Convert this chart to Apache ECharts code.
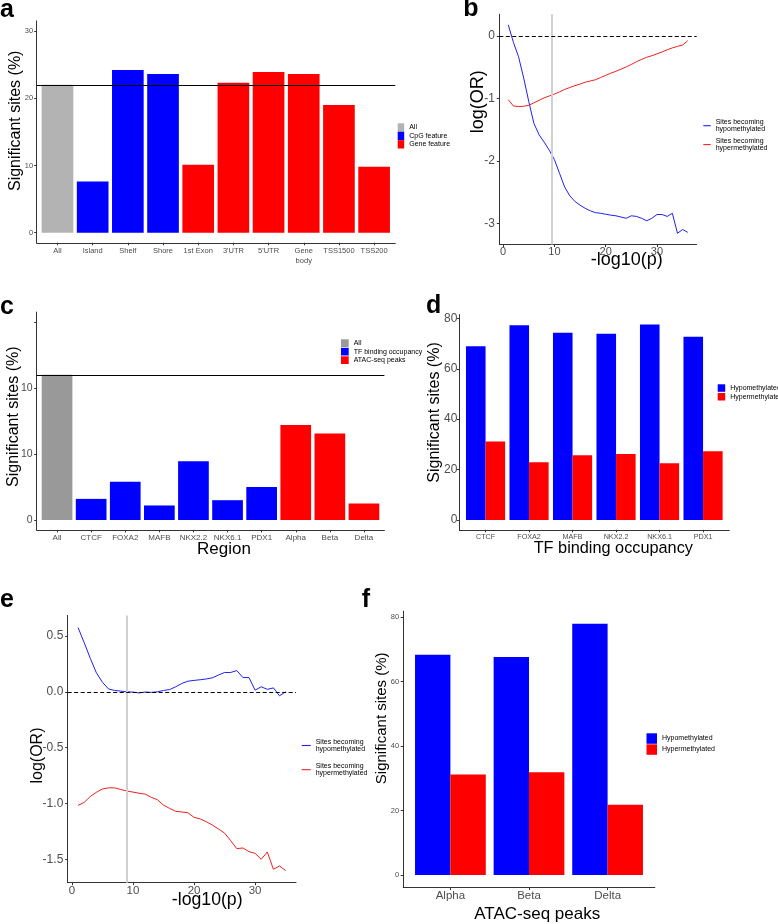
<!DOCTYPE html>
<html><head><meta charset="utf-8">
<script src="https://cdn.jsdelivr.net/npm/echarts@6/dist/echarts.min.js"></script>
<style>html,body{margin:0;padding:0;background:#fff}#c{width:778px;height:924px}</style>
</head><body><div id="c"></div>
<script>
// ---------- DATA ----------
// Panel a
const aCategories = ['All','Island','Shelf','Shore','1st Exon',"3'UTR","5'UTR",'Gene\nbody','TSS1500','TSS200'];
const aGroups = ['All','CpG feature','CpG feature','CpG feature','Gene feature','Gene feature','Gene feature','Gene feature','Gene feature','Gene feature'];
const aValues = [22.0, 7.6, 24.2, 23.6, 10.1, 22.3, 23.9, 23.6, 19.0, 9.8];
const aLegend = ['All','CpG feature','Gene feature'];
const aRefLine = 22.0;
const aYTicks = [0, 10, 20, 30];

// Panel b
const bX = [1,2,3,4,5,6,7,8,9,10,11,12,13,14,15,16,17,18,19,20,21,22,23,24,25,26,27,28,29,30,31,32,33,34,35,36];
const bHypo = [0.18,-0.10,-0.33,-0.67,-1.05,-1.40,-1.58,-1.70,-1.83,-1.98,-2.20,-2.42,-2.56,-2.65,-2.71,-2.76,-2.80,-2.83,-2.84,-2.855,-2.87,-2.88,-2.90,-2.92,-2.88,-2.89,-2.92,-2.96,-2.92,-2.86,-2.86,-2.89,-2.84,-3.16,-3.10,-3.145];
const bHyper = [-1.02,-1.12,-1.13,-1.125,-1.11,-1.07,-1.03,-0.99,-0.96,-0.93,-0.895,-0.855,-0.825,-0.795,-0.77,-0.74,-0.72,-0.70,-0.665,-0.63,-0.595,-0.565,-0.53,-0.495,-0.455,-0.41,-0.375,-0.34,-0.315,-0.285,-0.255,-0.22,-0.19,-0.165,-0.145,-0.075];
const bLegend = ['Sites becoming\nhypomethylated','Sites becoming\nhypermethylated'];
const bThreshold = 9.4;
const bRef = 0;
const bXTicks = [0, 10, 20, 30];
const bYTicks = [-3, -2, -1, 0];

// Panel c
const cCategories = ['All','CTCF','FOXA2','MAFB','NKX2.2','NKX6.1','PDX1','Alpha','Beta','Delta'];
const cGroups = ['All','TF binding occupancy','TF binding occupancy','TF binding occupancy','TF binding occupancy','TF binding occupancy','TF binding occupancy','ATAC-seq peaks','ATAC-seq peaks','ATAC-seq peaks'];
const cValues = [22.0, 3.2, 5.8, 2.2, 8.9, 3.0, 5.0, 14.4, 13.1, 2.5];
const cLegend = ['All','TF binding occupancy','ATAC-seq peaks'];
const cRefLine = 22.0;
const cYTicks = [0, 10, 20, 30];
const cYTickLabels = ['0', '10', '10', ''];

// Panel d
const dCategories = ['CTCF','FOXA2','MAFB','NKX2.2','NKX6.1','PDX1'];
const dHypo = [68.9, 77.3, 74.3, 73.9, 77.6, 72.7];
const dHyper = [31.1, 22.9, 25.7, 26.2, 22.5, 27.3];
const dLegend = ['Hypomethylated','Hypermethylated'];
const dYTicks = [0, 20, 40, 60, 80];

// Panel e
const eX = [1,2,3,4,5,6,7,8,9,10,11,12,13,14,15,16,17,18,19,20,21,22,23,24,25,26,27,28,29,30,31,32,33,34,35];
const eHypo = [0.575,0.44,0.30,0.17,0.085,0.025,0.012,0.006,0.0,-0.003,-0.01,-0.002,-0.005,0.0,0.012,0.02,0.045,0.075,0.095,0.102,0.108,0.115,0.125,0.15,0.173,0.173,0.19,0.128,0.127,0.015,0.045,0.022,0.035,-0.036,0.0];
const eHyper = [-1.017,-0.99,-0.937,-0.90,-0.87,-0.86,-0.86,-0.875,-0.888,-0.898,-0.908,-0.916,-0.945,-0.966,-1.015,-1.044,-1.07,-1.076,-1.083,-1.124,-1.138,-1.163,-1.193,-1.228,-1.265,-1.333,-1.404,-1.398,-1.431,-1.446,-1.50,-1.434,-1.589,-1.559,-1.60];
const eLegend = ['Sites becoming\nhypomethylated','Sites becoming\nhypermethylated'];
const eThreshold = 8.9;
const eRef = 0;
const eXTicks = [0, 10, 20, 30];
const eYTicks = [-1.5, -1, -0.5, 0, 0.5];
const eYTickLabels = ['-1.5', '-1.0', '-0.5', '0.0', '0.5'];

// Panel f
const fCategories = ['Alpha','Beta','Delta'];
const fHypo = [68.4, 67.7, 78.0];
const fHyper = [31.2, 31.9, 21.8];
const fLegend = ['Hypomethylated','Hypermethylated'];
const fYTicks = [0, 20, 40, 60, 80];

// Titles
const panelLetters = ['a','b','c','d','e','f'];
const yTitleSig = 'Significant sites (%)';
const yTitleOR = 'log(OR)';
const xTitleP = '-log10(p)';
const cXTitle = 'Region';
const dXTitle = 'TF binding occupancy';
const fXTitle = 'ATAC-seq peaks';

// ---------- STYLE ----------
const FONT = '"Liberation Sans", Arial, Helvetica, sans-serif';
const LBL = '#4d4d4d';
const AXC = '#333333';
const BLUE = '#0000ff', RED = '#ff0000';
const LBLUE = '#2020f0', LRED = '#f02020';
const aPalette = ['#b3b3b3', BLUE, RED];
const cPalette = ['#999999', BLUE, RED];

const chart = echarts.init(document.getElementById('c'), null, {renderer: 'canvas'});

const names = {};
function reg(prefix, list) { return list.map((t, i) => { const k = prefix + i; names[k] = t; return k; }); }
const aKeys = reg('a', aLegend), bKeys = reg('b', bLegend), cKeys = reg('c', cLegend),
      dKeys = reg('d', dLegend), eKeys = reg('e', eLegend), fKeys = reg('f', fLegend);

const grids = [
  {left: 36.7, top: 20.9, width: 358.6, height: 221.9},   // 0 a frame
  {left: 39.9, top: 20.9, width: 351.8, height: 221.9},   // 1 a data
  {left: 499.3, top: 14.2, width: 197.4, height: 230.3},  // 2 b
  {left: 36.7, top: 312.1, width: 347.7, height: 217.8},  // 3 c frame
  {left: 40.0, top: 312.1, width: 341.0, height: 217.8},  // 4 c data
  {left: 459.4, top: 314.6, width: 269.8, height: 215.2}, // 5 d frame
  {left: 463.8, top: 314.6, width: 261.0, height: 215.2}, // 6 d data
  {left: 67.7, top: 615.4, width: 228.3, height: 267.3},  // 7 e
  {left: 403.2, top: 611.2, width: 251.6, height: 276.4}, // 8 f frame
  {left: 411.1, top: 611.2, width: 235.8, height: 276.4}  // 9 f data
].map(g => Object.assign({containLabel: false, outerBoundsMode: 'none'}, g));

const axLine = {show: true, onZero: false, lineStyle: {color: AXC, width: 1}};
function frameX(gi) {
  return {gridIndex: gi, type: 'value', min: 0, max: 1, axisLine: axLine, axisTick: {show: false}, axisLabel: {show: false}, splitLine: {show: false}};
}
function hiddenY(gi, min, max) {
  return {gridIndex: gi, type: 'value', min, max, show: false, splitLine: {show: false}};
}
function valY(gi, min, max, ticks, fontSize, margin, fmt) {
  return {gridIndex: gi, type: 'value', min, max, axisLine: axLine,
    axisTick: {show: true, length: 2.5, customValues: ticks, lineStyle: {color: AXC}},
    axisLabel: {customValues: ticks, fontSize, color: LBL, margin, fontFamily: FONT, formatter: fmt || (v => String(v))},
    splitLine: {show: false}};
}
function valX(gi, min, max, ticks, fontSize, margin) {
  return {gridIndex: gi, type: 'value', min, max, axisLine: axLine,
    axisTick: {show: true, length: 2.5, customValues: ticks, lineStyle: {color: AXC}},
    axisLabel: {customValues: ticks, fontSize, color: LBL, margin, fontFamily: FONT},
    splitLine: {show: false}};
}
function catX(gi, cats, fontSize, margin) {
  return {gridIndex: gi, type: 'category', data: cats, axisLine: {show: false, onZero: false},
    axisTick: {show: true, alignWithLabel: true, length: 2.5, lineStyle: {color: AXC}},
    axisLabel: {interval: 0, fontSize, color: LBL, margin, lineHeight: 10, fontFamily: FONT},
    splitLine: {show: false}};
}

const xAxes = [
  frameX(0),
  catX(1, aCategories, 7.5, 3),
  valX(2, -0.75, 37.75, bXTicks, 11, 2),
  frameX(3),
  catX(4, cCategories, 8, 2.5),
  frameX(5),
  catX(6, dCategories, 7.2, 2.5),
  valX(7, -0.7, 36.7, eXTicks, 11.5, 2.5),
  frameX(8),
  catX(9, fCategories, 11.5, 3.5)
];
const yAxes = [
  valY(0, -1.5, 31.5, aYTicks, 7.5, 3.5),
  hiddenY(1, -1.5, 31.5),
  valY(2, -3.34, 0.35, bYTicks, 12, 4.5),
  valY(3, -1.5, 31.5, cYTicks, 10.5, 4, v => cYTickLabels[cYTicks.indexOf(v)]),
  hiddenY(4, -1.5, 31.5),
  valY(5, -3.88, 81.48, dYTicks, 12, 2),
  hiddenY(6, -3.88, 81.48),
  valY(7, -1.709, 0.684, eYTicks, 12, 4.4, v => eYTickLabels[eYTicks.indexOf(v)]),
  valY(8, -3.9, 81.9, fYTicks, 7.5, 4),
  hiddenY(9, -3.9, 81.9)
];

const series = [];
function refSeries(gi, val) {
  return {type: 'line', xAxisIndex: gi, yAxisIndex: gi, data: [], silent: true,
    markLine: {silent: true, symbol: 'none', label: {show: false}, animation: false,
      lineStyle: {color: '#000', width: 1, type: 'solid'}, data: [{yAxis: val}]}};
}
series.push(refSeries(0, aRefLine));
series.push(refSeries(3, cRefLine));

function groupBars(gi, keys, legend, groups, values, palette, stackId) {
  legend.forEach((g, i) => {
    series.push({type: 'bar', name: keys[i], xAxisIndex: gi, yAxisIndex: gi, stack: stackId, barWidth: '90%',
      itemStyle: {color: palette[i]}, data: values.map((v, k) => groups[k] === g ? v : '-')});
  });
}
groupBars(1, aKeys, aLegend, aGroups, aValues, aPalette, 'a');
groupBars(4, cKeys, cLegend, cGroups, cValues, cPalette, 'c');

function pairBars(gi, keys, hypo, hyper) {
  series.push({type: 'bar', name: keys[0], xAxisIndex: gi, yAxisIndex: gi, barGap: '0%', barCategoryGap: '10%', itemStyle: {color: BLUE}, data: hypo});
  series.push({type: 'bar', name: keys[1], xAxisIndex: gi, yAxisIndex: gi, barGap: '0%', barCategoryGap: '10%', itemStyle: {color: RED}, data: hyper});
}
pairBars(6, dKeys, dHypo, dHyper);
pairBars(9, fKeys, fHypo, fHyper);

function linePanel(gi, keys, xs, hypo, hyper, thr, ref) {
  series.push({type: 'line', name: keys[0], xAxisIndex: gi, yAxisIndex: gi, data: xs.map((x, i) => [x, hypo[i]]),
    symbol: 'none', showSymbol: false, lineStyle: {color: LBLUE, width: 1}, itemStyle: {color: LBLUE}, z: 3,
    markLine: {silent: true, symbol: 'none', label: {show: false}, animation: false, data: [
      {xAxis: thr, lineStyle: {color: '#d0d0d0', width: 2, type: 'solid'}},
      {yAxis: ref, lineStyle: {color: '#000', width: 1, type: [4, 2.5]}}
    ]}});
  series.push({type: 'line', name: keys[1], xAxisIndex: gi, yAxisIndex: gi, data: xs.map((x, i) => [x, hyper[i]]),
    symbol: 'none', showSymbol: false, lineStyle: {color: LRED, width: 1}, itemStyle: {color: LRED}, z: 3});
}
linePanel(2, bKeys, bX, bHypo, bHyper, bThreshold, bRef);
linePanel(7, eKeys, eX, eHypo, eHyper, eThreshold, eRef);

const fmt = n => names[n];
function leg(keys, left, top, w, h, gap, lh) {
  return {data: keys, left, top, orient: 'vertical', padding: 0, itemGap: gap, itemWidth: w, itemHeight: h,
    icon: 'rect', formatter: fmt, selectedMode: false, textStyle: {fontSize: 7, color: '#000', lineHeight: lh, fontFamily: FONT}};
}
const legends = [
  leg(aKeys, 397.7, 123.3, 6.5, 8.4, 0, 8.4),
  leg(bKeys, 703.3, 118, 7.4, 1.1, 3.5, 7.7),
  leg(cKeys, 341, 339.3, 7.7, 7.7, 0.8, 7.7),
  leg(dKeys, 717.7, 384.3, 7.5, 7.5, 1.2, 7.5),
  leg(eKeys, 301.7, 737.8, 9, 1.1, 8.8, 7.7),
  leg(fKeys, 646.5, 733.3, 10.5, 10.5, 0.5, 10.5)
];

function txt(text, x, y, size, opts) {
  opts = opts || {};
  return {type: 'text', x, y, rotation: opts.rot ? Math.PI / 2 : 0, silent: true,
    style: {text, fill: '#000', font: (opts.bold ? 'bold ' : '') + size + 'px ' + FONT,
      align: opts.align || 'center', verticalAlign: 'middle', textAlign: opts.align || 'center', textVerticalAlign: 'middle'}};
}
const graphics = [
  txt(panelLetters[0], 0, 10.5, 25, {bold: true, align: 'left'}),
  txt(panelLetters[1], 463.3, 9, 25, {bold: true, align: 'left'}),
  txt(panelLetters[2], 0, 307.5, 25, {bold: true, align: 'left'}),
  txt(panelLetters[3], 426, 306.5, 25, {bold: true, align: 'left'}),
  txt(panelLetters[4], 0, 600.5, 25, {bold: true, align: 'left'}),
  txt(panelLetters[5], 361.7, 600.5, 25, {bold: true, align: 'left'}),
  txt(yTitleSig, 15.1, 120.8, 16, {rot: true}),
  txt(yTitleOR, 478.2, 101.7, 18, {rot: true}),
  txt(xTitleP, 626.7, 260.5, 18),
  txt(yTitleSig, 13.4, 416.7, 16, {rot: true}),
  txt(cXTitle, 224, 549.8, 17),
  txt(yTitleSig, 434.2, 412.5, 16, {rot: true}),
  txt(dXTitle, 613.3, 548.4, 16.3),
  txt(yTitleOR, 37.6, 755.5, 16, {rot: true}),
  txt(xTitleP, 207.2, 900.2, 17.7),
  txt(yTitleSig, 381.8, 718.3, 15, {rot: true}),
  txt(fXTitle, 537.2, 914.3, 17)
];

chart.setOption({
  animation: false,
  backgroundColor: '#ffffff',
  textStyle: {fontFamily: FONT},
  grid: grids,
  xAxis: xAxes,
  yAxis: yAxes,
  legend: legends,
  series,
  graphic: {elements: graphics}
});
</script>
</body></html>
